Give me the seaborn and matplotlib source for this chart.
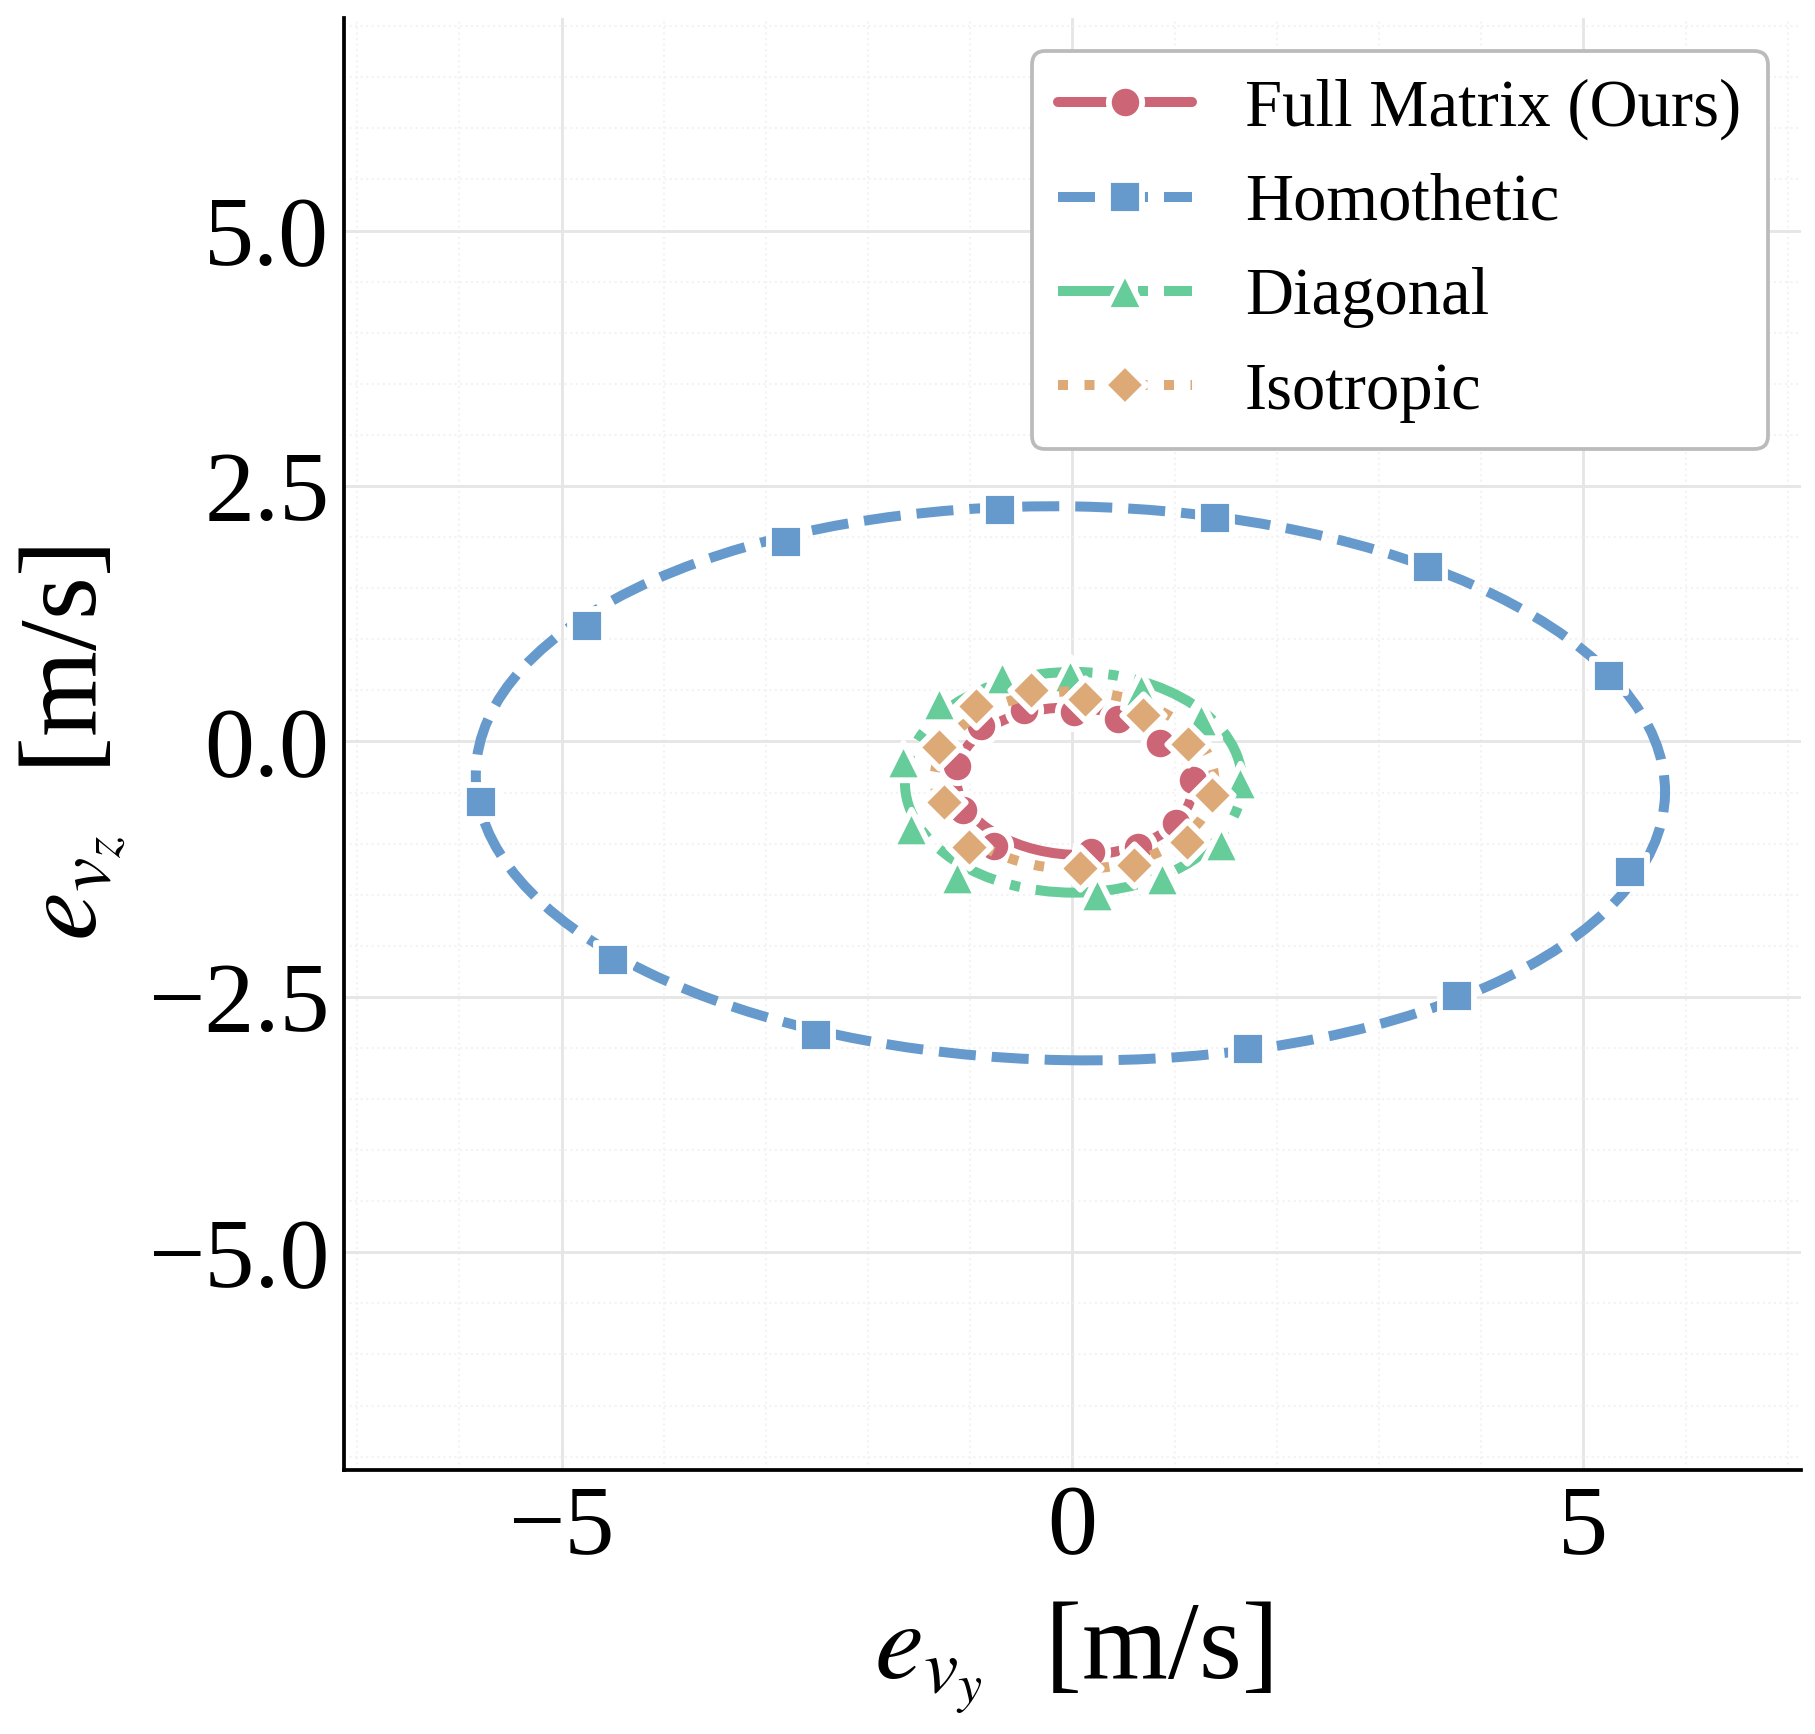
import numpy as np
import pandas as pd
import matplotlib
matplotlib.use("Agg")
import matplotlib.pyplot as plt
from matplotlib.patches import Ellipse
from matplotlib.lines import Line2D
from matplotlib.ticker import MultipleLocator
import seaborn as sns

# data
methods = ["Full Matrix (Ours)", "Homothetic", "Diagonal", "Isotropic"]
colors = ["#CC6677", "#6699CC", "#66CC99", "#DDAA77"]
markers = ["o", "s", "^", "D"]
marker_sizes = [8.0, 8.0, 9.0, 7.2]
linestyles = ["-", "--", "-.", ":"]

# ellipse outlines: center x, center y, full width, full height, angle (deg)
ell_cx = [0.02, -0.02, 0.01, 0.02]
ell_cy = [-0.39, -0.41, -0.40, -0.38]
ell_w = [2.32, 11.64, 3.30, 2.74]
ell_h = [1.44, 5.42, 2.16, 1.74]
ell_ang = [-3.0, -1.0, 0.0, -1.0]

# marker positions on each outline
full_x = [-1.13, -0.90, -0.47, 0.01, 0.45, 0.86, 1.18, 1.01, 0.64, 0.18, -0.77, -1.07]
full_y = [-0.24, 0.15, 0.31, 0.29, 0.22, -0.02, -0.38, -0.80, -1.03, -1.08, -1.02, -0.67]
homo_x = [-5.79, -4.50, -2.51, 1.72, 3.76, 5.46, 5.25, 3.48, 1.39, -0.71, -2.80, -4.75]
homo_y = [-0.59, -2.14, -2.87, -3.01, -2.49, -1.28, 0.64, 1.71, 2.19, 2.26, 1.95, 1.13]
diag_x = [-0.69, -0.02, 0.67, 1.26, 1.64, 1.45, 0.88, 0.24, -1.13, -1.58, -1.66, -1.31]
diag_y = [0.63, 0.65, 0.51, 0.22, -0.40, -1.00, -1.34, -1.49, -1.33, -0.85, -0.19, 0.38]
iso_x = [-0.94, -0.41, 0.12, 0.69, 1.13, 1.37, 1.12, 0.60, 0.07, -1.01, -1.26, -1.31]
iso_y = [0.35, 0.50, 0.42, 0.26, -0.03, -0.52, -0.98, -1.21, -1.24, -1.03, -0.59, -0.05]

pts_x = [full_x, homo_x, diag_x, iso_x]
pts_y = [full_y, homo_y, diag_y, iso_y]

sns.set_style("white")
plt.rcParams["font.family"] = ["Liberation Serif", "DejaVu Serif"]
plt.rcParams["mathtext.fontset"] = "stix"
plt.rcParams["axes.unicode_minus"] = True
for k in ["text.color", "axes.labelcolor", "xtick.color", "ytick.color"]:
    plt.rcParams[k] = "black"

LW = 2.4
MEW = 1.4

fig = plt.figure(figsize=(6.05, 5.78), dpi=300)
ax = fig.add_axes([0.1895, 0.1517, 0.8028, 0.8385])

handles = []
for i, m in enumerate(methods):
    ms = marker_sizes[i]
    ax.add_patch(Ellipse((ell_cx[i], ell_cy[i]), ell_w[i], ell_h[i], angle=ell_ang[i],
                         fill=False, edgecolor=colors[i], linewidth=LW,
                         linestyle=linestyles[i], zorder=3 + 2 * i))
    df = pd.DataFrame({"x": pts_x[i], "y": pts_y[i]})
    sns.scatterplot(data=df, x="x", y="y", ax=ax, marker=markers[i], color=colors[i],
                    s=ms ** 2, edgecolor="white", linewidth=MEW, zorder=4 + 2 * i,
                    legend=False)
    handles.append(Line2D([], [], color=colors[i], lw=LW, ls=linestyles[i],
                          marker=markers[i], markersize=ms, markeredgecolor="white",
                          markeredgewidth=MEW))

ax.set_xlim(-7.13, 7.13)
ax.set_ylim(-7.13, 7.08)
ax.set_aspect("equal", adjustable="box")

ax.xaxis.set_major_locator(MultipleLocator(5))
ax.xaxis.set_minor_locator(MultipleLocator(1))
ax.yaxis.set_major_locator(MultipleLocator(2.5))
ax.yaxis.set_minor_locator(MultipleLocator(0.5))

ax.grid(True, which="major", color="#e6e6e6", lw=0.7, zorder=0)
ax.grid(True, which="minor", color="#f3f3f3", lw=0.5, ls=":", zorder=0)
ax.set_axisbelow(True)

for s in ["top", "right"]:
    ax.spines[s].set_visible(False)
for s in ["left", "bottom"]:
    ax.spines[s].set_linewidth(0.9)
    ax.spines[s].set_color("black")

ax.tick_params(which="major", direction="in", length=3.8, width=0.9, labelsize=24,
               colors="black")
ax.tick_params(which="minor", direction="in", length=1.9, width=0.8, colors="black")

ax.set_xlabel(r"$e_{v_y}$  [m/s]", fontsize=26.5, labelpad=6)
ax.set_ylabel(r"$e_{v_z}$  [m/s]", fontsize=26.5, labelpad=4.5)

leg = ax.legend(handles, methods, loc="upper right", fontsize=16, frameon=True,
                fancybox=True, framealpha=1, edgecolor="#bbbbbb",
                handlelength=2.0, handletextpad=0.8, labelspacing=0.5)
leg.get_frame().set_linewidth(0.9)

plt.savefig("out.png", dpi=300)
